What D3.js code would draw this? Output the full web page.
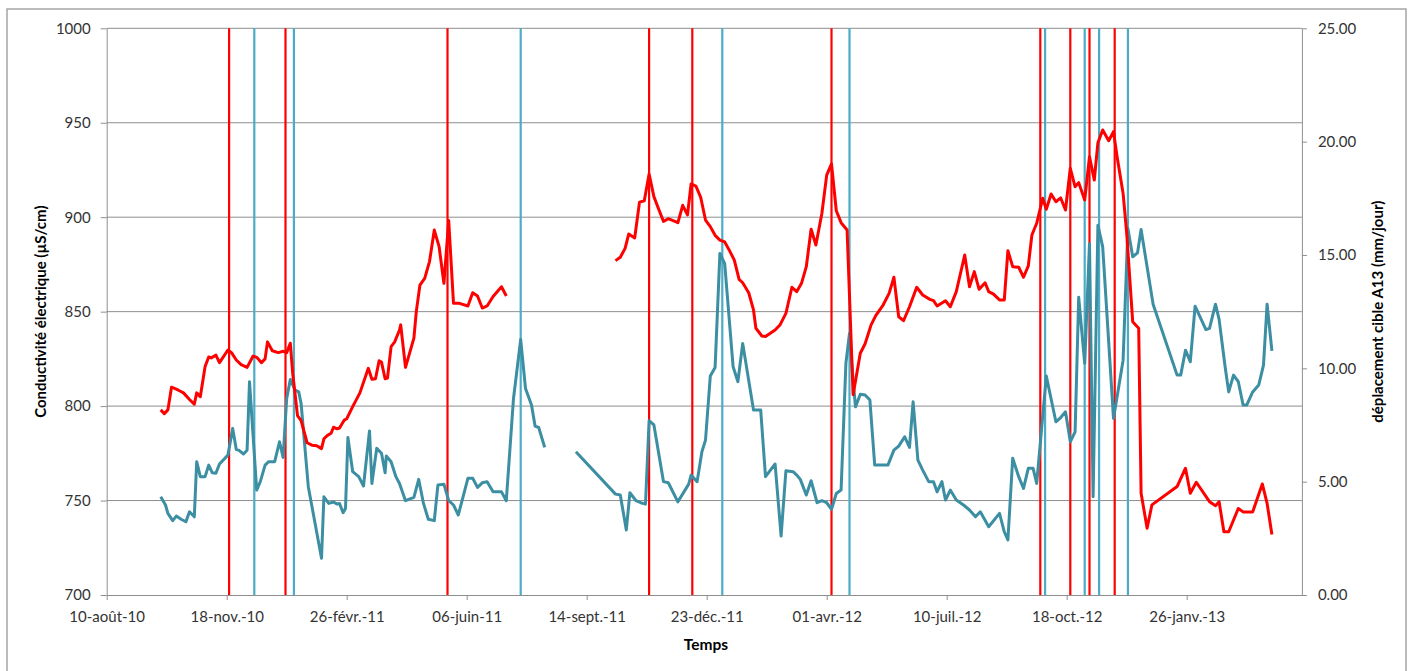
<!DOCTYPE html>
<html><head><meta charset="utf-8">
<script src="https://cdn.jsdelivr.net/npm/d3@7"></script>
<style>body{margin:0;background:#fff} svg{display:block}</style>
</head><body>
<svg id="chart" width="1412" height="671"></svg>
<script>
// ---- Data ----
const conductivite = [
["2010-09-24",798],["2010-09-27",796],["2010-09-30",798],["2010-10-03",810],["2010-10-07",809],["2010-10-10",808],["2010-10-13",807],["2010-10-18",803.5],["2010-10-22",801],["2010-10-24",807],["2010-10-27",805],["2010-10-31",821],["2010-11-03",826],["2010-11-05",825.5],["2010-11-09",827],["2010-11-12",823],["2010-11-19",829.7],["2010-11-22",828.3],["2010-11-26",824.4],["2010-11-30",822],["2010-12-05",820.5],["2010-12-10",826.5],["2010-12-13",825.8],["2010-12-17",823],["2010-12-20",825],["2010-12-22",834],["2010-12-26",829.3],["2010-12-31",828.3],["2011-01-04",829],["2011-01-07",828.3],["2011-01-10",833.3],["2011-01-12",817.4],["2011-01-16",795],["2011-01-19",792.3],["2011-01-24",780.6],["2011-01-28",779.3],["2011-02-01",779],["2011-02-05",777.5],["2011-02-07",782.7],["2011-02-10",784.5],["2011-02-13",785.6],["2011-02-15",788.8],["2011-02-18",788],["2011-02-20",788.4],["2011-02-24",792.6],["2011-02-26",793.3],["2011-03-03",799.7],["2011-03-09",807],["2011-03-16",820],["2011-03-19",814.2],["2011-03-22",814.5],["2011-03-25",824],["2011-03-27",823.3],["2011-03-30",814.5],["2011-04-01",814.9],["2011-04-04",831.5],["2011-04-07",834],["2011-04-11",840.3],["2011-04-12",843],["2011-04-16",820.5],["2011-04-23",836],["2011-04-25",850],["2011-04-28",864],["2011-05-02",867.6],["2011-05-06",876.5],["2011-05-10",893.2],["2011-05-14",884.4],["2011-05-18",865],["2011-05-22",898.2],["2011-05-26",854.4],["2011-05-31",854.4],["2011-06-07",853],["2011-06-11",860],["2011-06-15",858.3],["2011-06-19",851.9],["2011-06-23",853],["2011-06-28",858],["2011-07-05",863.2],["2011-07-09",858.3],
["2011-08-20",null],
["2011-10-08",877],["2011-10-12",878.8],["2011-10-16",883.5],["2011-10-19",891.1],["2011-10-24",889],["2011-10-28",908],["2011-11-01",908.7],["2011-11-05",922.9],["2011-11-09",910.9],["2011-11-13",904.2],["2011-11-17",897.8],["2011-11-21",899.2],["2011-11-25",898.2],["2011-11-29",897.1],["2011-12-03",906.3],["2011-12-07",901.2],["2011-12-10",917.6],["2011-12-14",916.5],["2011-12-18",910.5],["2011-12-22",898.5],["2011-12-26",895],["2011-12-30",890.4],["2012-01-03",887.9],["2012-01-07",886.9],["2012-01-11",882.3],["2012-01-15",877.3],["2012-01-19",867.1],["2012-01-22",865.3],["2012-01-27",860],["2012-01-31",850.9],["2012-02-02",841.2],["2012-02-07",837.1],["2012-02-10",836.8],["2012-02-18",840.3],["2012-02-22",842.9],["2012-02-27",849.1],["2012-03-03",862.9],["2012-03-07",860.6],["2012-03-11",865],["2012-03-15",873.8],["2012-03-19",893.6],["2012-03-23",885.3],["2012-03-28",902.1],["2012-04-01",922.3],["2012-04-05",928.2],["2012-04-09",903.4],["2012-04-13",897.1],["2012-04-18",893.2],["2012-04-23",806],["2012-04-29",828],["2012-05-03",833],["2012-05-08",843],["2012-05-12",848],["2012-05-18",853.5],["2012-05-23",859.7],["2012-05-27",868.2],["2012-05-31",847.3],["2012-06-04",845.2],["2012-06-09",852.6],["2012-06-15",862.9],["2012-06-20",858.8],["2012-06-26",856.5],["2012-06-29",855.8],["2012-07-02",853],["2012-07-09",855.8],["2012-07-13",852.6],["2012-07-18",860.6],["2012-07-25",880],["2012-07-29",863.2],["2012-08-02",871.2],["2012-08-06",861.8],["2012-08-11",865.3],["2012-08-14",860.6],["2012-08-18",859.3],["2012-08-23",856.2],["2012-08-27",856.2],["2012-08-30",882.3],["2012-09-03",873.8],["2012-09-08",873.5],["2012-09-12",868.2],["2012-09-16",874.2],["2012-09-19",890.6],["2012-09-23",896.8],["2012-09-28",910],["2012-10-01",904.2],["2012-10-05",912.3],["2012-10-09",908.2],["2012-10-13",910.2],["2012-10-17",903.8],["2012-10-21",925.9],["2012-10-25",916.1],["2012-10-28",918.3],["2012-11-02",909.1],["2012-11-06",932],["2012-11-10",919.7],["2012-11-13",939.4],["2012-11-17",946.2],["2012-11-22",940.5],["2012-11-26",945.3],["2012-11-29",932],["2012-12-04",912.6],["2012-12-07",891.5],["2012-12-12",844.7],["2012-12-17",841.2],["2012-12-19",753.9],["2012-12-24",735.3],["2012-12-28",747.7],["2013-01-18",757.4],["2013-01-25",767.1],["2013-01-29",753.9],["2013-02-03",759.7],["2013-02-14",749.4],["2013-02-19",747.3],["2013-02-22",749.4],["2013-02-26",733.5],["2013-03-02",733.5],["2013-03-10",745.8],["2013-03-14",744],["2013-03-22",744],["2013-03-30",758.8],["2013-04-03",748.5],["2013-04-07",732]
];

const deplacement = [
["2010-09-24",4.33],["2010-09-28",3.97],["2010-09-30",3.60],["2010-10-04",3.28],["2010-10-07",3.48],["2010-10-11",3.34],["2010-10-15",3.23],["2010-10-18",3.67],["2010-10-22",3.45],["2010-10-24",5.88],["2010-10-27",5.22],["2010-10-31",5.22],["2010-11-03",5.73],["2010-11-06",5.39],["2010-11-09",5.37],["2010-11-12",5.78],["2010-11-19",6.17],["2010-11-23",7.35],["2010-11-26",6.42],["2010-11-28",6.39],["2010-12-02",6.22],["2010-12-05",6.39],["2010-12-07",9.41],["2010-12-13",4.63],["2010-12-16",5.0],["2010-12-20",5.73],["2010-12-23",5.88],["2010-12-28",5.88],["2011-01-01",6.76],["2011-01-04",6.07],["2011-01-07",8.67],["2011-01-10",9.51],["2011-01-14",9.04],["2011-01-17",8.96],["2011-01-19",8.45],["2011-01-25",4.78],["2011-02-05",1.62],["2011-02-07",4.33],["2011-02-11",4.04],["2011-02-15",4.10],["2011-02-18",4.01],["2011-02-20",4.04],["2011-02-23",3.63],["2011-02-25",3.82],["2011-02-27",6.95],["2011-03-03",5.44],["2011-03-08",5.22],["2011-03-12",4.81],["2011-03-17",7.24],["2011-03-19",4.92],["2011-03-23",6.47],["2011-03-27",6.25],["2011-03-30",5.39],["2011-03-31",6.13],["2011-04-04",5.88],["2011-04-08",5.22],["2011-04-11",4.92],["2011-04-16",4.16],["2011-04-23",4.31],["2011-04-27",5.10],["2011-05-01",4.04],["2011-05-05",3.34],["2011-05-10",3.28],["2011-05-13",4.85],["2011-05-18",4.89],["2011-05-22",4.16],["2011-05-26",3.97],["2011-05-30",3.53],["2011-06-07",5.15],["2011-06-11",5.15],["2011-06-15",4.75],["2011-06-19",4.95],["2011-06-23",5.0],["2011-06-28",4.55],["2011-07-05",4.55],["2011-07-09",4.16],["2011-07-15",8.67],["2011-07-21",11.27],["2011-07-25",9.11],["2011-07-30",8.38],["2011-08-02",7.45],["2011-08-05",7.39],["2011-08-10",6.51],
["2011-08-20",null],
["2011-09-05",6.32],["2011-10-08",4.45],["2011-10-12",4.41],["2011-10-17",2.87],["2011-10-20",4.51],["2011-10-25",4.16],["2011-10-29",4.07],["2011-11-02",4.01],["2011-11-05",7.69],["2011-11-09",7.50],["2011-11-17",5.0],["2011-11-21",4.95],["2011-11-29",4.11],["2011-12-08",4.89],["2011-12-10",5.29],["2011-12-15",5.0],["2011-12-19",6.32],["2011-12-22",6.83],["2011-12-26",9.66],["2011-12-30",10.04],["2012-01-03",15.07],["2012-01-07",14.62],["2012-01-14",10.07],["2012-01-18",9.41],["2012-01-22",11.10],["2012-01-31",8.16],["2012-02-06",8.16],["2012-02-10",5.22],["2012-02-18",5.78],["2012-02-23",2.60],["2012-02-27",5.48],["2012-03-04",5.44],["2012-03-07",5.29],["2012-03-10",5.1],["2012-03-15",4.41],["2012-03-19",5.04],["2012-03-24",4.07],["2012-03-28",4.16],["2012-04-01",4.07],["2012-04-05",3.78],["2012-04-09",4.48],["2012-04-13",4.63],["2012-04-17",10.22],["2012-04-20",11.54],["2012-04-23",9.48],["2012-04-25",8.30],["2012-04-29",8.86],["2012-05-03",8.82],["2012-05-07",8.60],["2012-05-11",5.73],["2012-05-22",5.73],["2012-05-27",6.39],["2012-05-31",6.57],["2012-06-05",6.98],["2012-06-09",6.51],["2012-06-12",8.52],["2012-06-16",5.95],["2012-06-20",5.51],["2012-06-25",5.0],["2012-06-29",5.0],["2012-07-02",4.55],["2012-07-06",5.0],["2012-07-09",4.19],["2012-07-13",4.63],["2012-07-18",4.19],["2012-07-24",3.97],["2012-07-29",3.75],["2012-08-03",3.45],["2012-08-07",3.67],["2012-08-14",3.01],["2012-08-23",3.60],["2012-08-27",2.79],["2012-08-30",2.43],["2012-09-03",6.03],["2012-09-08",5.22],["2012-09-12",4.70],["2012-09-16",5.59],["2012-09-20",5.59],["2012-09-23",4.92],["2012-09-27",7.28],["2012-10-01",9.66],["2012-10-09",7.64],["2012-10-13",7.83],["2012-10-17",8.08],["2012-10-21",6.76],["2012-10-25",7.20],["2012-10-28",13.13],["2012-11-02",10.22],["2012-11-06",15.5],["2012-11-09",4.33],["2012-11-13",16.31],["2012-11-17",15.36],["2012-11-26",7.79],["2012-12-04",10.36],["2012-12-08",16.17],["2012-12-12",14.92],["2012-12-16",15.09],["2012-12-19",16.12],["2012-12-29",12.83],["2013-01-18",9.70],["2013-01-21",9.70],["2013-01-25",10.80],["2013-01-29",10.29],["2013-02-02",12.74],["2013-02-11",11.71],["2013-02-14",11.76],["2013-02-19",12.83],["2013-02-22",12.16],["2013-02-27",10.07],["2013-03-02",8.96],["2013-03-06",9.70],["2013-03-10",9.41],["2013-03-14",8.38],["2013-03-17",8.38],["2013-03-22",8.96],["2013-03-27",9.26],["2013-03-31",10.14],["2013-04-03",12.83],["2013-04-07",10.77]
];

const evenementsRouges = ["2010-11-20","2011-01-06","2011-05-21","2011-11-05","2011-12-11","2012-04-05","2012-09-26","2012-10-21","2012-11-06","2012-11-27"];
const evenementsBleus  = ["2010-12-11","2011-01-13","2011-07-21","2012-01-05","2012-04-20","2012-09-30","2012-11-02","2012-11-14","2012-12-08"];

const xTickDates  = ["2010-08-10","2010-11-18","2011-02-26","2011-06-06","2011-09-14","2011-12-23","2012-04-01","2012-07-10","2012-10-18","2013-01-26"];
const xTickLabels = ["10-août-10","18-nov.-10","26-févr.-11","06-juin-11","14-sept.-11","23-déc.-11","01-avr.-12","10-juil.-12","18-oct.-12","26-janv.-13"];
const xDomain = ["2010-08-10","2013-05-02"];
const yLeftTicks  = [700,750,800,850,900,950,1000];
const yRightTicks = [0,5,10,15,20,25];

const titleLeft  = "Conductivité électrique (µS/cm)";
const titleRight = "déplacement cible A13 (mm/jour)";
const titleX     = "Temps";

// ---- Drawing ----
const parse = d3.utcParse("%Y-%m-%d");
const svg = d3.select("#chart");
const L = 106.7, R = 1301.9, T = 28.3, B = 595;
const FONT = "Lato, 'Open Sans', sans-serif";
const gridCol = "#8e8e8e";

const x = d3.scaleUtc().domain(xDomain.map(parse)).range([L, R]);
const yL = d3.scaleLinear().domain([700, 1000]).range([B, T]);
const yR = d3.scaleLinear().domain([0, 25]).range([B, T]);

// outer border
svg.append("rect").attr("x", 7).attr("y", 9).attr("width", 1399).attr("height", 700)
  .attr("fill", "#fff").attr("stroke", "#a5a5a5").attr("stroke-width", 1.5);

// gridlines
svg.append("g").selectAll("line").data(yLeftTicks.filter(v => v > 700)).join("line")
  .attr("x1", L).attr("x2", R).attr("y1", d => yL(d)).attr("y2", d => yL(d))
  .attr("stroke", gridCol).attr("stroke-width", 1);

// axes
function styleAxis(g) {
  g.select(".domain").attr("stroke", gridCol).attr("stroke-width", 1);
  g.selectAll(".tick line").attr("stroke", gridCol);
  g.selectAll("text").attr("font-family", FONT).attr("font-size", 15).attr("fill", "#333");
}
svg.append("g").attr("transform", `translate(${L},0)`)
  .call(d3.axisLeft(yL).tickValues(yLeftTicks).tickSize(6).tickSizeOuter(0).tickPadding(10).tickFormat(d3.format("d")))
  .call(styleAxis);
svg.append("g").attr("transform", `translate(${R},0)`)
  .call(d3.axisRight(yR).tickValues(yRightTicks).tickSize(5).tickSizeOuter(0).tickPadding(11).tickFormat(d3.format(".2f")))
  .call(styleAxis);
svg.append("g").attr("transform", `translate(0,${B})`)
  .call(d3.axisBottom(x).tickValues(xTickDates.map(parse)).tickSize(5).tickSizeOuter(0).tickPadding(11)
    .tickFormat((d, i) => xTickLabels[i]))
  .call(styleAxis);

// event vertical lines
svg.append("g").selectAll("line").data(evenementsBleus).join("line")
  .attr("x1", d => x(parse(d))).attr("x2", d => x(parse(d)))
  .attr("y1", T).attr("y2", B).attr("stroke", "#4bacc6").attr("stroke-width", 2.2);
svg.append("g").selectAll("line").data(evenementsRouges).join("line")
  .attr("x1", d => x(parse(d))).attr("x2", d => x(parse(d)))
  .attr("y1", T).attr("y2", B).attr("stroke", "#ff0000").attr("stroke-width", 2.2);

// series
const lineL = d3.line().defined(d => d[1] != null).x(d => x(parse(d[0]))).y(d => yL(d[1]));
const lineR = d3.line().defined(d => d[1] != null).x(d => x(parse(d[0]))).y(d => yR(d[1]));
svg.append("path").datum(deplacement).attr("d", lineR).attr("fill", "none")
  .attr("stroke", "#3c8ea3").attr("stroke-width", 3).attr("stroke-linejoin", "round");
svg.append("path").datum(conductivite).attr("d", lineL).attr("fill", "none")
  .attr("stroke", "#ff0000").attr("stroke-width", 3).attr("stroke-linejoin", "round");

// titles
svg.append("text").attr("transform", `translate(46,${(T + B) / 2}) rotate(-90)`)
  .attr("text-anchor", "middle").attr("font-family", FONT).attr("font-weight", "bold")
  .attr("font-size", 15).attr("fill", "#000").text(titleLeft);
svg.append("text").attr("transform", `translate(1383,${(T + B) / 2}) rotate(-90)`)
  .attr("text-anchor", "middle").attr("font-family", FONT).attr("font-weight", "bold")
  .attr("font-size", 15).attr("fill", "#000").text(titleRight);
svg.append("text").attr("x", 706).attr("y", 650)
  .attr("text-anchor", "middle").attr("font-family", FONT).attr("font-weight", "bold")
  .attr("font-size", 15.5).attr("fill", "#000").text(titleX);
</script>
</body></html>
